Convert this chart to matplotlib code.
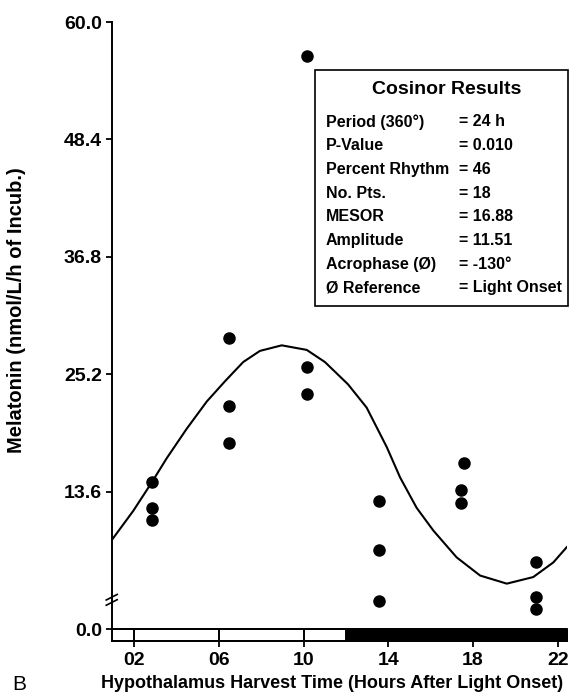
import matplotlib
matplotlib.use("Agg")
import matplotlib.pyplot as plt
from matplotlib.patches import Rectangle

plt.rcParams['font.family'] = ['Liberation Sans', 'DejaVu Sans']

# harvest time (h after light onset) and melatonin for each sample
harvest_time = [2.83, 2.83, 2.83,
                6.47, 6.47, 6.47,
                10.17, 10.17, 10.17,
                13.57, 13.57, 13.57,
                17.56, 17.41, 17.41,
                20.97, 20.97, 20.97]
melatonin = [14.5, 12.0, 10.8,
             28.8, 22.1, 18.4,
             56.6, 25.9, 23.2,
             12.7, 7.85, 2.8,
             16.4, 13.8, 12.5,
             6.6, 3.2, 2.0]

# fitted cosinor curve
curve_time = [0.93, 1.95, 2.82, 3.53, 4.47, 5.42, 6.28, 7.14, 7.93, 8.96,
              10.14, 11.0, 12.09, 12.97, 13.92, 14.55, 15.33, 16.12, 17.22,
              18.33, 19.59, 20.84, 21.79, 22.42]
curve_value = [8.8, 11.7, 14.5, 16.9, 19.8, 22.5, 24.5, 26.4, 27.5, 28.05,
               27.6, 26.4, 24.2, 21.9, 18.0, 15.0, 12.0, 9.75, 7.1,
               5.3, 4.5, 5.15, 6.6, 8.1]

# light / dark schedule (start, duration)
light_phase = [(0, 12)]
dark_phase = [(12, 12)]

y_ticks = [0.0, 13.6, 25.2, 36.8, 48.4, 60.0]
x_ticks = [2, 6, 10, 14, 18, 22]
x_ticklabels = ['02', '06', '10', '14', '18', '22']

box_labels = ['Period (360°)', 'P-Value', 'Percent Rhythm', 'No. Pts.',
              'MESOR', 'Amplitude', 'Acrophase (Ø)', 'Ø Reference']
box_values = ['= 24 h', '= 0.010', '= 46', '= 18',
              '= 16.88', '= 11.51', '= -130°', '= Light Onset']

fig = plt.figure(figsize=(5.7, 6.95), dpi=100)
ax = fig.add_axes([0.196, 0.0784, 0.7982, 0.8899])

bar_h = 1.12
ax.set_xlim(0.93, 22.42)
ax.set_ylim(-bar_h, 60.0)

# light/dark bar under the zero line
ax.broken_barh(light_phase, (-bar_h, bar_h), facecolor='white', edgecolor='black', linewidth=1.2)
ax.broken_barh(dark_phase, (-bar_h, bar_h), facecolor='black', edgecolor='black', linewidth=1.2)
ax.vlines(x_ticks, -bar_h, 0, color='black', linewidth=1.4)
ax.axhline(0, color='black', linewidth=1.4)

ax.plot(curve_time, curve_value, color='black', linewidth=1.5)
ax.plot(harvest_time, melatonin, 'o', color='black', markersize=8, clip_on=False)

for s in ['top', 'right']:
    ax.spines[s].set_visible(False)
for s in ['left', 'bottom']:
    ax.spines[s].set_linewidth(1.4)

ax.set_yticks(y_ticks)
ax.set_yticklabels(['%.1f' % v for v in y_ticks])
ax.set_xticks(x_ticks)
ax.set_xticklabels(x_ticklabels)
ax.tick_params(axis='y', direction='out', length=4.5, width=1.3, pad=2.5, labelsize=14)
ax.tick_params(axis='x', direction='out', length=4.3, width=1.3, pad=4, labelsize=14)
for lab in ax.get_xticklabels() + ax.get_yticklabels():
    lab.set_fontweight('bold')

# axis break marks
for dy in (0.0, 0.0085):
    ax.plot([-0.012, 0.012], [0.057 + dy, 0.066 + dy], color='black', linewidth=1.2,
            transform=ax.transAxes, clip_on=False)

fig.text(17 / 570, 1 - 310 / 695, 'Melatonin (nmol/L/h of Incub.)', rotation=90,
         ha='center', va='center', fontsize=14.5, fontweight='bold')
fig.text(332 / 570, 1 - 684 / 695, 'Hypothalamus Harvest Time (Hours After Light Onset)',
         ha='center', va='center', fontsize=13, fontweight='bold')
fig.text(12 / 570, 1 - 684 / 695, 'B', ha='left', va='center', fontsize=15)

# cosinor results box
bx0, by0, bx1, by1 = 315, 70, 568, 306
fig.add_artist(Rectangle((bx0 / 570, 1 - by1 / 695), (bx1 - bx0) / 570, (by1 - by0) / 695,
                         transform=fig.transFigure, facecolor='white', edgecolor='black',
                         linewidth=1.2))
fig.text(447 / 570, 1 - 90 / 695, 'Cosinor Results', ha='center', va='center',
         fontsize=14, fontweight='bold')
for i, (lab, val) in enumerate(zip(box_labels, box_values)):
    y = 1 - (122 + i * 23.7) / 695
    fig.text(326 / 570, y, lab, ha='left', va='center', fontsize=11.5, fontweight='bold')
    fig.text(459 / 570, y, val, ha='left', va='center', fontsize=11.5, fontweight='bold')

fig.savefig('out.png', dpi=100)
